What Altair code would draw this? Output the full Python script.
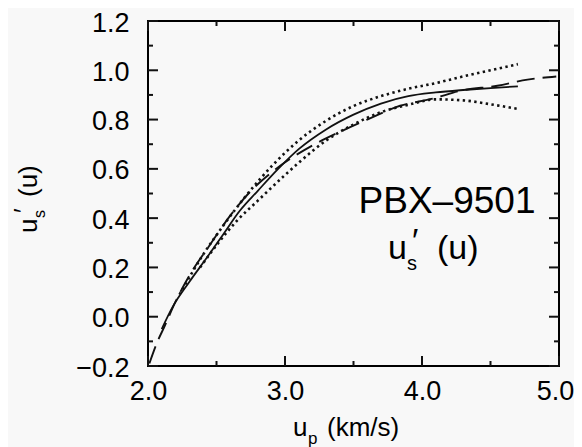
import altair as alt
import pandas as pd

# ---- data ----
solid_x = [2.10, 2.18, 2.30, 2.43, 2.55, 2.67, 2.80, 2.95, 3.10, 3.30, 3.50, 3.70, 3.90, 4.10, 4.30, 4.50, 4.70]
solid_y = [-0.05, 0.04, 0.14, 0.24, 0.335, 0.43, 0.51, 0.60, 0.68, 0.76, 0.82, 0.865, 0.895, 0.91, 0.92, 0.928, 0.935]

upper_x = [2.23, 2.40, 2.55, 2.70, 2.82, 3.00, 3.10, 3.30, 3.50, 3.70, 3.90, 4.10, 4.30, 4.50, 4.70]
upper_y = [0.09, 0.25, 0.37, 0.48, 0.56, 0.665, 0.715, 0.795, 0.855, 0.895, 0.925, 0.948, 0.975, 1.00, 1.025]

lower_x = [2.38, 2.50, 2.65, 2.80, 3.00, 3.10, 3.30, 3.50, 3.70, 3.90, 4.10, 4.30, 4.50, 4.70]
lower_y = [0.20, 0.29, 0.39, 0.47, 0.575, 0.625, 0.715, 0.78, 0.83, 0.86, 0.882, 0.878, 0.862, 0.843]

dash_x = [2.01, 2.07, 2.12, 2.20, 2.30, 2.45, 2.60, 2.75, 2.90, 3.05, 3.20, 3.40, 3.60, 3.84, 4.08, 4.28, 4.55, 4.77, 4.98]
dash_y = [-0.19, -0.10, -0.04, 0.06, 0.165, 0.29, 0.41, 0.51, 0.585, 0.645, 0.695, 0.75, 0.80, 0.856, 0.885, 0.917, 0.937, 0.962, 0.975]

x_major = [2.0, 3.0, 4.0, 5.0]
x_minor = [2.5, 3.5, 4.5]
y_major = [-0.2, 0.0, 0.2, 0.4, 0.6, 0.8, 1.0, 1.2]
y_minor = [-0.1, 0.1, 0.3, 0.5, 0.7, 0.9, 1.1]

W, H = 411, 345
FONT = "Liberation Sans"
INK = "#111111"

xs = alt.Scale(domain=[2, 5], nice=False, zero=False)
ys = alt.Scale(domain=[-0.2, 1.2], nice=False, zero=False)

x_axis = alt.Axis(values=x_major, format=".1f", ticks=False, domain=False, grid=False,
                  labelFontSize=27, labelFont=FONT, labelColor="black", labelPadding=12,
                  labelOffset={"condition": {"test": "datum.value >= 5", "value": -4}, "value": 0},
                  labelFlush=False, labelOverlap=False, title=None)
y_axis = alt.Axis(values=y_major, format=".1f", ticks=False, domain=False, grid=False,
                  labelFontSize=27, labelFont=FONT, labelColor="black", labelPadding=19,
                  labelOffset=2, labelFlush=False, labelOverlap=False, title=None)


def X(field):
    return alt.X(field, scale=xs, axis=x_axis)


def Y(field):
    return alt.Y(field, scale=ys, axis=y_axis)


def line(xv, yv, width, dash=None):
    df = pd.DataFrame({"x": xv, "y": yv})
    kw = dict(color=INK, strokeWidth=width, clip=True, interpolate="monotone")
    if dash is not None:
        kw["strokeDash"] = dash
    return alt.Chart(df).mark_line(**kw).encode(x=X("x:Q"), y=Y("y:Q"))


solid = line(solid_x, solid_y, 1.8)
upper = line(upper_x, upper_y, 2.6, dash=[2.4, 3.4])
lower = line(lower_x, lower_y, 2.6, dash=[2.4, 3.4])
dashed = line(dash_x, dash_y, 1.9, dash=[18, 8])


def xticks(vals, length):
    df = pd.DataFrame({"v": vals})
    b = alt.Chart(df).mark_rule(color=INK, strokeWidth=2).encode(
        x=X("v:Q"), y=alt.value(H), y2=alt.value(H - length))
    t = alt.Chart(df).mark_rule(color=INK, strokeWidth=2).encode(
        x=X("v:Q"), y=alt.value(0), y2=alt.value(length))
    return b + t


def yticks(vals, length):
    df = pd.DataFrame({"v": vals})
    l = alt.Chart(df).mark_rule(color=INK, strokeWidth=2).encode(
        y=Y("v:Q"), x=alt.value(0), x2=alt.value(length))
    r = alt.Chart(df).mark_rule(color=INK, strokeWidth=2).encode(
        y=Y("v:Q"), x=alt.value(W), x2=alt.value(W - length))
    return l + r


ticks = xticks(x_major, 10) + xticks(x_minor, 5) + yticks(y_major, 10) + yticks(y_minor, 5)


def txt(s, px, py, size, angle=0, align="left", baseline="alphabetic"):
    df = pd.DataFrame({"t": [s]})
    kw = dict(font=FONT, fontSize=size, color="black", align=align, baseline=baseline)
    if angle:
        kw["angle"] = angle
    return alt.Chart(df).mark_text(**kw).encode(
        text="t:N", x=alt.value(px), y=alt.value(py))


labels = (
    # annotation inside the plot
    txt("PBX–9501", 299, 192, 37, align="center")
    + txt("u", 240, 238, 34)
    + txt("s", 259, 249, 20)
    + txt("′", 264, 231, 34)
    + txt("(u)", 289, 238, 34)
    # x-axis title
    + txt("u", 145, 415, 26)
    + txt("p", 160, 423, 17)
    + txt("(km/s)", 179, 415, 26)
    # y-axis title (rotated)
    + txt("u", -111, 212, 26, angle=270)
    + txt("s", -103, 197, 16, angle=270)
    + txt("′", -116, 192, 26, angle=270)
    + txt("(u)", -111, 176, 26, angle=270)
)

chart = alt.layer(solid, upper, lower, dashed, ticks, labels).properties(
    width=W, height=H,
    padding={"left": 140, "top": 13, "right": 15, "bottom": 82},
    autosize=alt.AutoSizeParams(type="none"),
    background="#f8f8f8",
).configure_view(stroke="black", strokeWidth=2)

chart.save("out.html", embed_options={"renderer": "svg", "actions": False})
